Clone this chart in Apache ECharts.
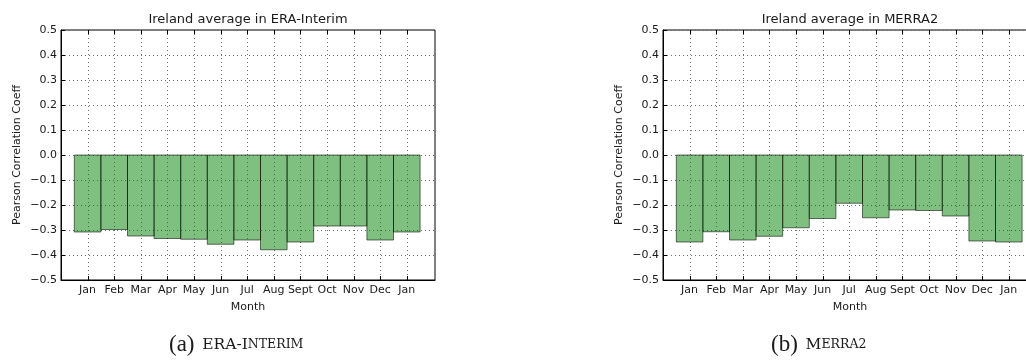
<!DOCTYPE html>
<html>
<head>
<meta charset="utf-8">
<script src="https://cdn.jsdelivr.net/npm/echarts@6/dist/echarts.min.js"></script>
<style>
html,body{margin:0;padding:0;background:#fff;overflow:hidden;width:1026px;height:361px;}
#chart{width:1044px;height:361px;}
</style>
</head>
<body>
<div id="chart"></div>
<script>
// ---- data ----
const months = ['Jan','Feb','Mar','Apr','May','Jun','Jul','Aug','Sept','Oct','Nov','Dec','Jan'];
const eraValues   = [-0.308, -0.298, -0.324, -0.334, -0.337, -0.357, -0.340, -0.379, -0.348, -0.284, -0.284, -0.340, -0.308];
const merraValues = [-0.348, -0.307, -0.340, -0.325, -0.291, -0.254, -0.193, -0.251, -0.220, -0.222, -0.244, -0.344, -0.348];
const titles = ['Ireland average in ERA-Interim', 'Ireland average in MERRA2'];
const yName = 'Pearson Correlation Coeff';
const xName = 'Month';

const FONT = 'DejaVu Sans';
const TXT = '#1a1a1a';
const GRIDC = '#6e6e6e';
const Y_MIN = -0.5, Y_MAX = 0.5;

function renderBar(params, api) {
  const x = api.value(0), v = api.value(1);
  const a = api.coord([x - 0.5, 0]);
  const b = api.coord([x + 0.5, v]);
  const t = api.coord([x, Y_MAX]);
  const bt = api.coord([x, Y_MIN]);
  const gx = Math.round(t[0]) + 0.5;
  const y0 = Math.min(a[1], b[1]), h = Math.abs(b[1] - a[1]);
  return {
    type: 'group',
    children: [
      { type: 'line', shape: { x1: gx, y1: t[1], x2: gx, y2: bt[1] },
        style: { stroke: GRIDC, lineWidth: 1, lineDash: [1, 3] }, z2: 0 },
      { type: 'line', shape: { x1: gx, y1: bt[1], x2: gx, y2: bt[1] - 4 },
        style: { stroke: '#000', lineWidth: 1 }, z2: 2 },
      { type: 'line', shape: { x1: gx, y1: t[1], x2: gx, y2: t[1] + 4 },
        style: { stroke: '#000', lineWidth: 1 }, z2: 2 },
      { type: 'rect', shape: { x: a[0], y: y0, width: b[0] - a[0], height: h },
        style: { fill: 'rgba(0,128,0,0.5)', stroke: 'rgba(0,0,0,0.55)', lineWidth: 1 }, z2: 1 }
    ]
  };
}

function yFmt(v) {
  if (Math.abs(v) < 1e-9) return '0.0';
  const s = v.toFixed(1);
  return s.replace('-', '\u2212');
}
function xFmt(v) {
  return (Number.isInteger(v) && v >= 0 && v < months.length) ? months[v] : '';
}

const grids = [
  { left: 61, top: 30, width: 374, height: 250 },
  { left: 663, top: 30, width: 374, height: 250 }
];

function xAxisOf(i) {
  return {
    type: 'value', gridIndex: i, min: -1, max: 13.06, interval: 1,
    name: xName, nameLocation: 'middle', nameGap: 22,
    nameTextStyle: { fontFamily: FONT, fontSize: 11, color: TXT },
    axisLine: { show: true, onZero: false, lineStyle: { color: '#000', width: 1 } },
    axisTick: { show: false },
    splitLine: { show: false },
    axisLabel: { formatter: xFmt, fontFamily: FONT, fontSize: 11, color: TXT, margin: 5, showMinLabel: true, showMaxLabel: true, hideOverlap: false }
  };
}
function yAxisOf(i) {
  return {
    type: 'value', gridIndex: i, min: Y_MIN, max: Y_MAX, interval: 0.1,
    name: yName, nameLocation: 'middle', nameGap: 38,
    nameTextStyle: { fontFamily: FONT, fontSize: 11, color: TXT },
    axisLine: { show: true, onZero: false, lineStyle: { color: '#000', width: 1 } },
    axisTick: { show: true, inside: true, length: 4, lineStyle: { color: '#000' } },
    splitLine: { show: true, lineStyle: { color: GRIDC, width: 1, type: [1, 3] } },
    axisLabel: { formatter: yFmt, fontFamily: FONT, fontSize: 11, color: TXT, margin: 4 }
  };
}

const capRich = {
  p: { fontFamily: 'Liberation Serif', fontSize: 23, fill: TXT },
  sp: { fontSize: 14, fill: TXT },
  c: { fontFamily: 'DejaVu Serif', fontSize: 15.5, fill: TXT },
  s: { fontFamily: 'DejaVu Serif', fontSize: 12.5, fill: TXT }
};

const chart = echarts.init(document.getElementById('chart'), null, { renderer: 'canvas' });
chart.setOption({
  backgroundColor: '#fff',
  animation: false,
  title: titles.map((t, i) => ({
    text: t,
    left: grids[i].left + grids[i].width / 2,
    top: 13,
    textAlign: 'center',
    padding: 0,
    textStyle: { fontFamily: FONT, fontSize: 13, fontWeight: 'normal', color: TXT }
  })),
  grid: grids.map(g => Object.assign({ show: true, borderColor: '#000', borderWidth: 1, backgroundColor: 'transparent' }, g)),
  xAxis: [xAxisOf(0), xAxisOf(1)],
  yAxis: [yAxisOf(0), yAxisOf(1)],
  series: [
    { type: 'custom', xAxisIndex: 0, yAxisIndex: 0, renderItem: renderBar,
      data: eraValues.map((v, i) => [i, v]), clip: true },
    { type: 'custom', xAxisIndex: 1, yAxisIndex: 1, renderItem: renderBar,
      data: merraValues.map((v, i) => [i, v]), clip: true }
  ],
  graphic: [
    { type: 'text', left: 169, top: 333,
      style: { text: '{p|(a)}{sp|  }{c|ERA-I}{s|NTERIM}', rich: capRich } },
    { type: 'text', left: 771, top: 333,
      style: { text: '{p|(b)}{sp|  }{c|M}{s|ERRA2}', rich: capRich } }
  ]
});
</script>
</body>
</html>
